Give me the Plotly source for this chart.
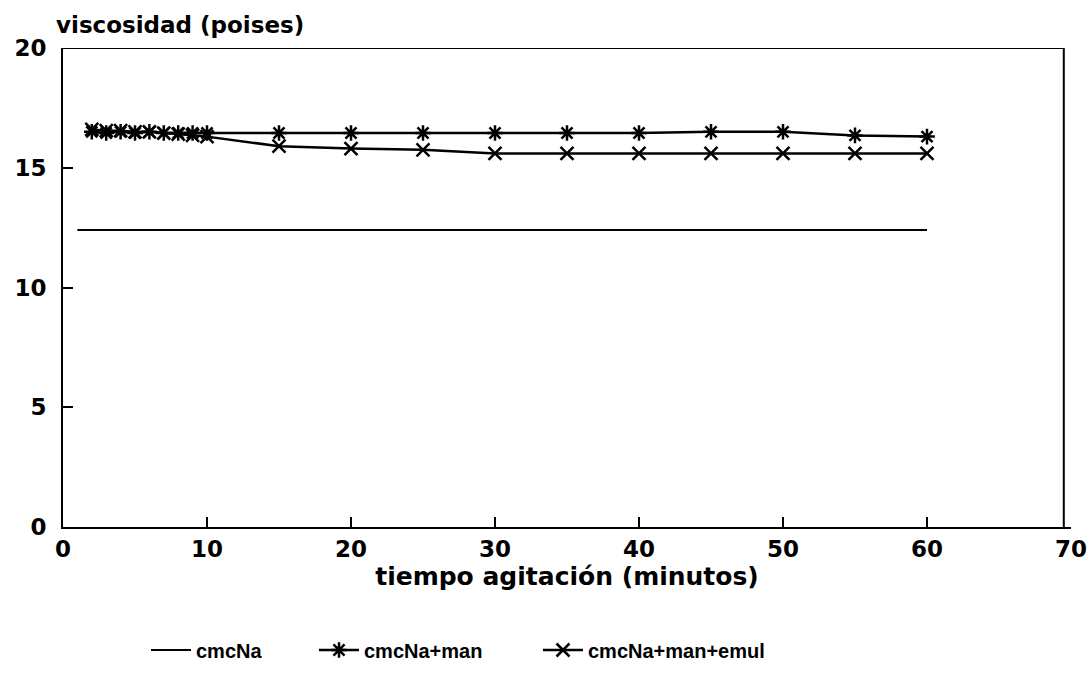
import plotly.graph_objects as go

# Data
t_cmc = [1, 60]
v_cmc = [12.4, 12.4]

t_series = [2, 3, 4, 5, 6, 7, 8, 9, 10, 15, 20, 25, 30, 35, 40, 45, 50, 55, 60]
v_man = [16.5, 16.45, 16.5, 16.45, 16.5, 16.45, 16.45, 16.45, 16.45,
         16.45, 16.45, 16.45, 16.45, 16.45, 16.45, 16.5, 16.5, 16.35, 16.3]
v_emul = [16.6, 16.55, 16.55, 16.5, 16.5, 16.45, 16.4, 16.35, 16.3,
          15.9, 15.8, 15.75, 15.6, 15.6, 15.6, 15.6, 15.6, 15.6, 15.6]

names = ["cmcNa", "cmcNa+man", "cmcNa+man+emul"]
x_ticks = [0, 10, 20, 30, 40, 50, 60, 70]
y_ticks = [0, 5, 10, 15, 20]

FONT = "DejaVu Sans"
LEGFONT = dict(family="Liberation Sans", size=20, color="black", weight="bold")

fig = go.Figure()
fig.add_trace(go.Scatter(x=t_cmc, y=v_cmc, mode="lines", name=names[0],
                         legend="legend",
                         line=dict(color="black", width=2)))
fig.add_trace(go.Scatter(x=t_series, y=v_man, mode="lines+markers", name=names[1],
                         legend="legend2",
                         line=dict(color="black", width=2.5),
                         marker=dict(symbol="asterisk-open", size=13,
                                     line=dict(color="black", width=2.5))))
fig.add_trace(go.Scatter(x=t_series, y=v_emul, mode="lines+markers", name=names[2],
                         legend="legend3",
                         line=dict(color="black", width=2.5),
                         marker=dict(symbol="x-thin-open", size=13,
                                     line=dict(color="black", width=2.5))))

# top and right frame lines
fig.add_shape(type="line", xref="x", yref="y", x0=0, x1=69.5, y0=20, y1=20,
              line=dict(color="black", width=2))
fig.add_shape(type="line", xref="x", yref="y", x0=69.5, x1=69.5, y0=0, y1=20,
              line=dict(color="black", width=2))

fig.add_annotation(text="viscosidad (poises)", xref="paper", yref="paper",
                   x=-0.009, y=1.048, xanchor="left", yanchor="middle",
                   showarrow=False,
                   font=dict(family=FONT, size=23, color="black", weight="bold"))

W, H = 1090, 676


def leg(px):
    return dict(orientation="h", xref="container", yref="container",
                x=px / W, xanchor="left", y=1 - 650 / H, yanchor="middle",
                font=LEGFONT, itemwidth=40, bgcolor="rgba(0,0,0,0)")


fig.update_layout(
    width=W, height=H,
    margin=dict(l=63, r=19, t=48, b=149, autoexpand=False),
    plot_bgcolor="white", paper_bgcolor="white",
    showlegend=True,
    legend=leg(146),
    legend2=leg(314),
    legend3=leg(538),
    xaxis=dict(range=[0, 70], tickvals=x_ticks, ticks="inside", ticklen=10, tickwidth=2,
               tickcolor="black", showline=True, linecolor="black", linewidth=2,
               showgrid=False, zeroline=False, ticklabelstandoff=0, automargin=False,
               tickfont=dict(family=FONT, size=23, color="black", weight="bold"),
               title=dict(text="tiempo agitación (minutos)", standoff=3,
                          font=dict(family=FONT, size=25, color="black", weight="bold"))),
    yaxis=dict(range=[0, 20], tickvals=y_ticks, ticks="inside", ticklen=10, tickwidth=2,
               tickcolor="black", showline=True, linecolor="black", linewidth=2,
               showgrid=False, zeroline=False, ticklabelstandoff=10, automargin=False,
               tickfont=dict(family=FONT, size=23, color="black", weight="bold")),
)

fig.write_html("out.html",
               config={"displayModeBar": False},
               post_script="document.body.style.margin='0px';")
